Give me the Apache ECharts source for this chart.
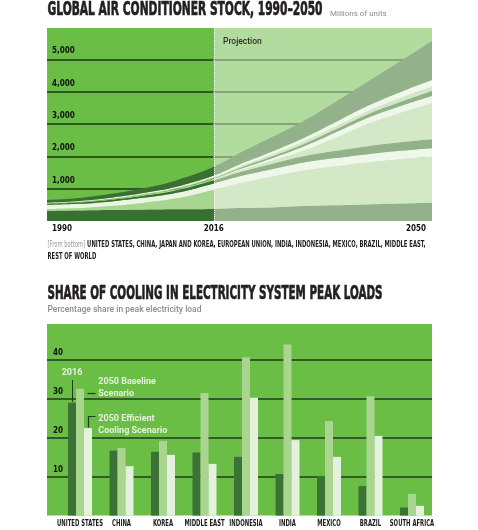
<!DOCTYPE html>
<html><head><meta charset="utf-8">
<script src="https://cdn.jsdelivr.net/npm/echarts@6/dist/echarts.min.js"></script>
<style>html,body{margin:0;padding:0;background:#fff}#c{width:478px;height:530px}</style>
</head><body><div id="c"></div>
<script>
// ---------- Data: global AC stock (millions of units) ----------
const years = [1990, 1995, 2000, 2005, 2010, 2016, 2020, 2025, 2030, 2035, 2040, 2045, 2050];
const unitedStates  = [310, 325, 340, 350, 362, 372, 400, 420, 460, 485, 510, 540, 566];
const china         = [ 60,  70, 120, 210, 330, 590, 760, 950, 1100, 1210, 1300, 1370, 1422];
const japanKorea    = [130, 135, 145, 155, 170, 200, 220, 230, 250, 255, 255, 258, 260];
const europeanUnion = [ 30,  40,  50,  65,  80, 100, 130, 165, 190, 220, 247, 265, 278];
const india         = [  5,   7,  10,  15,  20,  30,  50,  90, 170, 400, 680, 900, 1113];
const indonesia     = [  3,   4,   6,   8,  10,  15,  40,  80, 130, 170, 201, 215, 226];
const mexico        = [  5,   6,   7,   9,  11,  16,  35,  55,  80,  95, 108, 130, 155];
const brazil        = [  8,  10,  12,  15,  20,  27,  45,  60,  80,  88,  95, 115, 133];
const middleEast    = [ 20,  24,  30,  36,  45,  55,  70,  90, 105, 135, 164, 190, 207];
const restOfWorld   = [ 80,  90, 120, 150, 200, 270, 350, 450, 530, 630, 754, 950, 1206];
const stockNames = ['United States','China','Japan and Korea','European Union','India','Indonesia','Mexico','Brazil','Middle East','Rest of World'];
const stockTicks = [1990, 2016, 2050];
const projectionStart = 2016;

// ---------- Data: share of cooling in peak load (%) ----------
const peakCategories = ['UNITED STATES','CHINA','KOREA','MIDDLE EAST','INDONESIA','INDIA','MEXICO','BRAZIL','SOUTH AFRICA'];
const peak2016          = [29.0, 16.7, 16.4, 16.2, 15.1, 10.7, 10.2,  7.6, 2.1];
const peakBaseline2050  = [32.6, 17.4, 19.2, 31.5, 40.7, 44.0, 24.3, 30.7, 5.6];
const peakEfficient2050 = [22.5, 12.7, 15.6, 13.3, 30.3, 19.4, 15.1, 20.5, 2.5];

// ---------- helpers ----------
const T = y => Date.UTC(y, 0, 1);
const stockData = [unitedStates, china, japanKorea, europeanUnion, india, indonesia, mexico, brazil, middleEast, restOfWorld];
const f = (T(projectionStart) - T(1990)) / (T(2050) - T(1990));
function split(a, b) {
  return new echarts.graphic.LinearGradient(0, 0, 1, 0, [
    {offset: 0, color: a}, {offset: f, color: a}, {offset: f, color: b}, {offset: 1, color: b}]);
}
const mctx = document.createElement('canvas').getContext('2d');
function textW(font, s) { mctx.font = font; return mctx.measureText(s).width; }

const COND = '"DejaVu Sans Condensed","DejaVu Sans",sans-serif';
const titleFont = 'bold 19.5px ' + COND;
const title1 = 'GLOBAL AIR CONDITIONER STOCK, 1990\u20132050';
const title2 = 'SHARE OF COOLING IN ELECTRICITY SYSTEM PEAK LOADS';
const t1Scale = 275 / textW(titleFont, title1);
const t2Scale = 335 / textW(titleFont, title2);

const noteGFont = '9px ' + COND;
const noteBFont = 'bold 9px ' + COND;
const noteG = '[From bottom]';
const noteB = ' UNITED STATES, CHINA, JAPAN AND KOREA, EUROPEAN UNION, INDIA, INDONESIA, MEXICO, BRAZIL, MIDDLE EAST,';
const noteScale = 378 / (textW(noteGFont, noteG) + textW(noteBFont, noteB));

const catFont = 'bold 9px ' + COND;
const catScale = 46 / textW(catFont, 'UNITED STATES');
const tickFont = 'bold 8px ' + COND;

const palette = [
  split('#3a6f34', '#93b28b'),
  split('#a8d58f', '#d2e8c6'),
  split('#eaf5e3', '#eef7ea')
];

const stockSeries = stockData.map((arr, i) => ({
  type: 'line', name: stockNames[i], xAxisIndex: 0, yAxisIndex: 0, stack: 'stock',
  data: years.map((y, j) => [T(y), arr[j]]),
  smooth: 0.4, symbol: 'none', showSymbol: false,
  lineStyle: {width: 0, opacity: 0},
  areaStyle: {color: palette[i % 3], opacity: 1},
  silent: true, z: 2
}));
stockSeries[stockSeries.length - 1].markLine = {
  silent: true, symbol: ['none', 'none'], label: {show: false},
  lineStyle: {type: 'dotted', color: 'rgba(255,255,255,0.9)', width: 1},
  data: [{xAxis: T(projectionStart)}]
};

// year tick labels of the stock chart, placed through the time axis
const yearLabelSeries = {
  type: 'custom', xAxisIndex: 0, yAxisIndex: 0, clip: false, silent: true, z: 5,
  data: stockTicks.map(y => [T(y), 0]),
  renderItem: (params, api) => {
    const p = api.coord([api.value(0), 0]);
    const n = stockTicks.length - 1, i = params.dataIndex;
    const align = i === 0 ? 'left' : i === n ? 'right' : 'center';
    const dx = i === 0 ? 5 : i === n ? -6 : 0;
    return {type: 'text', x: p[0] + dx, y: p[1] + 8,
      style: {text: String(stockTicks[i]), font: tickFont, fill: '#111', align: align, verticalAlign: 'middle'}};
  }
};

const barColors = ['#3b7337', '#a9d58f', '#e4f1dc'];
const barSeries = [peak2016, peakBaseline2050, peakEfficient2050].map((arr, i) => ({
  type: 'bar', xAxisIndex: 2, yAxisIndex: 2, data: arr, barWidth: 8, barGap: '0%',
  itemStyle: {color: barColors[i]}, silent: true, z: 2
}));

const catLabelSeries = {
  type: 'custom', xAxisIndex: 2, yAxisIndex: 2, clip: false, silent: true, z: 5,
  data: peakCategories.map((c, i) => [i, 0]),
  renderItem: (params, api) => {
    const p = api.coord([api.value(0), 0]);
    return {type: 'text', x: p[0], y: p[1] + 8.5, scaleX: catScale,
      style: {text: peakCategories[params.dataIndex], font: catFont, fill: '#1a1a1a', align: 'center', verticalAlign: 'middle'}};
  }
};

const smallBold = {fontFamily: COND, fontWeight: 'bold', fontSize: 8, color: '#111'};
const legendFont = 'bold 9px Roboto, sans-serif';
const legendFill = '#e6f2de';
const darkLine = '#1f3b1c';

const option = {
  animation: false,
  grid: [
    {left: 47, right: 46, top: 28, bottom: 309, show: true, backgroundColor: split('#6abe46', '#b2dba0'), borderWidth: 0},
    {left: 47, right: 46, top: 324, bottom: 14.4, show: true, backgroundColor: '#6abe46', borderWidth: 0},
    {left: 59.25, right: 45.25, top: 324, bottom: 14.4}
  ],
  xAxis: [
    {gridIndex: 0, type: 'time', min: T(1990), max: T(2050),
      axisLine: {show: false}, axisTick: {show: false}, splitLine: {show: false}, axisLabel: {show: false}},
    {gridIndex: 1, type: 'value', min: 0, max: 1, show: false},
    {gridIndex: 2, type: 'category', data: peakCategories,
      axisLine: {show: false}, axisTick: {show: false}, axisLabel: {show: false}, splitLine: {show: false}}
  ],
  yAxis: [
    {gridIndex: 0, type: 'value', min: 0, max: 5966, interval: 1000,
      axisLine: {show: false}, axisTick: {show: false},
      axisLabel: Object.assign({inside: true, margin: 5, verticalAlign: 'bottom', padding: [0, 0, 4, 0],
        showMinLabel: false, showMaxLabel: false, formatter: v => v.toLocaleString('en-US')}, smallBold),
      splitLine: {show: true, showMinLine: false, showMaxLine: false, lineStyle: {color: split('#1c3519', '#73926a'), width: 1.5}}},
    {gridIndex: 1, type: 'value', min: 0, max: 49.25, interval: 10,
      axisLine: {show: false}, axisTick: {show: false},
      axisLabel: Object.assign({inside: true, margin: 6, verticalAlign: 'bottom', padding: [0, 0, 3, 0],
        showMinLabel: false, showMaxLabel: false}, smallBold),
      splitLine: {show: true, showMinLine: false, showMaxLine: false, lineStyle: {color: darkLine, width: 1.6}}},
    {gridIndex: 2, type: 'value', min: 0, max: 49.25, show: false}
  ],
  series: stockSeries.concat([yearLabelSeries], barSeries, [catLabelSeries]),
  graphic: {elements: [
    {type: 'text', x: 47.5, y: 10, scaleX: t1Scale, z: 100, silent: true,
      style: {text: title1, font: titleFont, fill: '#231f20', stroke: '#231f20', lineWidth: 0.7, verticalAlign: 'middle'}},
    {type: 'text', x: 330, y: 13.5, z: 100, silent: true,
      style: {text: 'Millions of units', font: '8px Roboto, sans-serif', fill: '#8c8c8c', verticalAlign: 'middle'}},
    {type: 'text', x: 223, y: 41.5, z: 100, silent: true,
      style: {text: 'Projection', font: '500 8.5px Roboto, sans-serif', fill: '#2f2f2f', verticalAlign: 'middle'}},
    {type: 'text', x: 47.5, y: 245, scaleX: noteScale, z: 100, silent: true,
      style: {text: '{g|' + noteG + '}{b|' + noteB + '}', verticalAlign: 'middle',
        rich: {g: {font: noteGFont, fill: '#9a9a9a'}, b: {font: noteBFont, fill: '#1e1e1e'}}}},
    {type: 'text', x: 47.5, y: 256.7, scaleX: noteScale, z: 100, silent: true,
      style: {text: 'REST OF WORLD', font: noteBFont, fill: '#1e1e1e', verticalAlign: 'middle'}},
    {type: 'text', x: 47.5, y: 293.5, scaleX: t2Scale, z: 100, silent: true,
      style: {text: title2, font: titleFont, fill: '#231f20', stroke: '#231f20', lineWidth: 0.7, verticalAlign: 'middle'}},
    {type: 'text', x: 47.5, y: 309.5, z: 100, silent: true,
      style: {text: 'Percentage share in peak electricity load', font: '500 8.5px Roboto, sans-serif', fill: '#8c8c8c', verticalAlign: 'middle'}},
    // bar legend annotations
    {type: 'text', x: 61.7, y: 373, z: 100, silent: true, style: {text: '2016', font: legendFont, fill: legendFill, verticalAlign: 'middle'}},
    {type: 'text', x: 98.3, y: 381.5, z: 100, silent: true, style: {text: '2050 Baseline', font: legendFont, fill: legendFill, verticalAlign: 'middle'}},
    {type: 'text', x: 98.3, y: 393.5, z: 100, silent: true, style: {text: 'Scenario', font: legendFont, fill: legendFill, verticalAlign: 'middle'}},
    {type: 'text', x: 98.3, y: 418.5, z: 100, silent: true, style: {text: '2050 Efficient', font: legendFont, fill: legendFill, verticalAlign: 'middle'}},
    {type: 'text', x: 98.3, y: 430.5, z: 100, silent: true, style: {text: 'Cooling Scenario', font: legendFont, fill: legendFill, verticalAlign: 'middle'}},
    {type: 'polyline', z: 100, silent: true, shape: {points: [[72.5, 380], [72.5, 402]]}, style: {stroke: darkLine, lineWidth: 1, fill: null}},
    {type: 'polyline', z: 100, silent: true, shape: {points: [[87.5, 393.5], [95.5, 393.5]]}, style: {stroke: darkLine, lineWidth: 1.2, fill: null}},
    {type: 'polyline', z: 100, silent: true, shape: {points: [[88.5, 427.5], [88.5, 416.5], [95.5, 416.5]]}, style: {stroke: darkLine, lineWidth: 1.2, fill: null}}
  ]}
};
const chart = echarts.init(document.getElementById('c'), null, {renderer: 'canvas'});
chart.setOption(option);
</script>
</body></html>
